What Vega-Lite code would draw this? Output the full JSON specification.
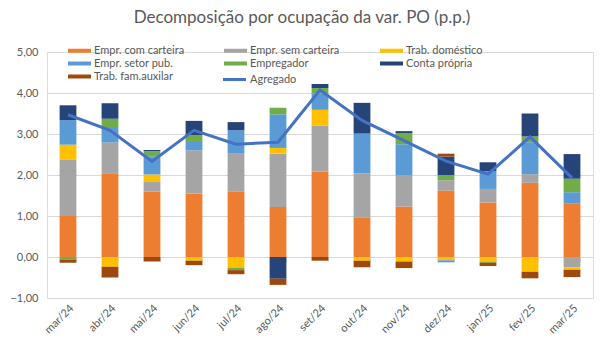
{
  "$schema": "https://vega.github.io/schema/vega-lite/v6.json",
  "width": 546,
  "height": 246,
  "autosize": {"type": "none"},
  "padding": {"left": 47, "top": 52, "right": 7, "bottom": 52},
  "background": "white",
  "title": {
    "text": "Decomposição por ocupação da var. PO (p.p.)",
    "font": "Lato",
    "fontSize": 17,
    "fontWeight": "normal",
    "color": "#595959",
    "anchor": "middle",
    "frame": "group",
    "dx": -18,
    "offset": 18
  },
  "datasets": {
    "bars": [
      {"mes": "mar/24", "serie": "Empr. com carteira", "valor": 1.00},
      {"mes": "mar/24", "serie": "Empr. sem carteira", "valor": 1.37},
      {"mes": "mar/24", "serie": "Trab. doméstico", "valor": 0.37},
      {"mes": "mar/24", "serie": "Empr. setor pub.", "valor": 0.60},
      {"mes": "mar/24", "serie": "Empregador", "valor": -0.07},
      {"mes": "mar/24", "serie": "Conta própria", "valor": 0.36},
      {"mes": "mar/24", "serie": "Trab. fam.auxilar", "valor": -0.07},
      {"mes": "abr/24", "serie": "Empr. com carteira", "valor": 2.04},
      {"mes": "abr/24", "serie": "Empr. sem carteira", "valor": 0.75},
      {"mes": "abr/24", "serie": "Trab. doméstico", "valor": -0.24},
      {"mes": "abr/24", "serie": "Empr. setor pub.", "valor": 0.38},
      {"mes": "abr/24", "serie": "Empregador", "valor": 0.20},
      {"mes": "abr/24", "serie": "Conta própria", "valor": 0.38},
      {"mes": "abr/24", "serie": "Trab. fam.auxilar", "valor": -0.26},
      {"mes": "mai/24", "serie": "Empr. com carteira", "valor": 1.59},
      {"mes": "mai/24", "serie": "Empr. sem carteira", "valor": 0.24},
      {"mes": "mai/24", "serie": "Trab. doméstico", "valor": 0.18},
      {"mes": "mai/24", "serie": "Empr. setor pub.", "valor": 0.45},
      {"mes": "mai/24", "serie": "Empregador", "valor": 0.12},
      {"mes": "mai/24", "serie": "Conta própria", "valor": 0.03},
      {"mes": "mai/24", "serie": "Trab. fam.auxilar", "valor": -0.11},
      {"mes": "jun/24", "serie": "Empr. com carteira", "valor": 1.55},
      {"mes": "jun/24", "serie": "Empr. sem carteira", "valor": 1.05},
      {"mes": "jun/24", "serie": "Trab. doméstico", "valor": -0.09},
      {"mes": "jun/24", "serie": "Empr. setor pub.", "valor": 0.23},
      {"mes": "jun/24", "serie": "Empregador", "valor": 0.14},
      {"mes": "jun/24", "serie": "Conta própria", "valor": 0.35},
      {"mes": "jun/24", "serie": "Trab. fam.auxilar", "valor": -0.11},
      {"mes": "jul/24", "serie": "Empr. com carteira", "valor": 1.59},
      {"mes": "jul/24", "serie": "Empr. sem carteira", "valor": 0.93},
      {"mes": "jul/24", "serie": "Trab. doméstico", "valor": -0.26},
      {"mes": "jul/24", "serie": "Empr. setor pub.", "valor": 0.57},
      {"mes": "jul/24", "serie": "Empregador", "valor": -0.06},
      {"mes": "jul/24", "serie": "Conta própria", "valor": 0.20},
      {"mes": "jul/24", "serie": "Trab. fam.auxilar", "valor": -0.10},
      {"mes": "ago/24", "serie": "Empr. com carteira", "valor": 1.22},
      {"mes": "ago/24", "serie": "Empr. sem carteira", "valor": 1.30},
      {"mes": "ago/24", "serie": "Trab. doméstico", "valor": 0.14},
      {"mes": "ago/24", "serie": "Empr. setor pub.", "valor": 0.82},
      {"mes": "ago/24", "serie": "Empregador", "valor": 0.16},
      {"mes": "ago/24", "serie": "Conta própria", "valor": -0.53},
      {"mes": "ago/24", "serie": "Trab. fam.auxilar", "valor": -0.15},
      {"mes": "set/24", "serie": "Empr. com carteira", "valor": 2.08},
      {"mes": "set/24", "serie": "Empr. sem carteira", "valor": 1.12},
      {"mes": "set/24", "serie": "Trab. doméstico", "valor": 0.39},
      {"mes": "set/24", "serie": "Empr. setor pub.", "valor": 0.40},
      {"mes": "set/24", "serie": "Empregador", "valor": 0.13},
      {"mes": "set/24", "serie": "Conta própria", "valor": 0.10},
      {"mes": "set/24", "serie": "Trab. fam.auxilar", "valor": -0.09},
      {"mes": "out/24", "serie": "Empr. com carteira", "valor": 0.97},
      {"mes": "out/24", "serie": "Empr. sem carteira", "valor": 1.07},
      {"mes": "out/24", "serie": "Trab. doméstico", "valor": -0.09},
      {"mes": "out/24", "serie": "Empr. setor pub.", "valor": 0.97},
      {"mes": "out/24", "serie": "Empregador", "valor": 0.0},
      {"mes": "out/24", "serie": "Conta própria", "valor": 0.75},
      {"mes": "out/24", "serie": "Trab. fam.auxilar", "valor": -0.16},
      {"mes": "nov/24", "serie": "Empr. com carteira", "valor": 1.23},
      {"mes": "nov/24", "serie": "Empr. sem carteira", "valor": 0.77},
      {"mes": "nov/24", "serie": "Trab. doméstico", "valor": -0.11},
      {"mes": "nov/24", "serie": "Empr. setor pub.", "valor": 0.75},
      {"mes": "nov/24", "serie": "Empregador", "valor": 0.27},
      {"mes": "nov/24", "serie": "Conta própria", "valor": 0.05},
      {"mes": "nov/24", "serie": "Trab. fam.auxilar", "valor": -0.16},
      {"mes": "dez/24", "serie": "Empr. com carteira", "valor": 1.62},
      {"mes": "dez/24", "serie": "Empr. sem carteira", "valor": 0.25},
      {"mes": "dez/24", "serie": "Trab. doméstico", "valor": -0.08},
      {"mes": "dez/24", "serie": "Empr. setor pub.", "valor": -0.05},
      {"mes": "dez/24", "serie": "Empregador", "valor": 0.13},
      {"mes": "dez/24", "serie": "Conta própria", "valor": 0.45},
      {"mes": "dez/24", "serie": "Trab. fam.auxilar", "valor": 0.07},
      {"mes": "jan/25", "serie": "Empr. com carteira", "valor": 1.33},
      {"mes": "jan/25", "serie": "Empr. sem carteira", "valor": 0.33},
      {"mes": "jan/25", "serie": "Trab. doméstico", "valor": -0.11},
      {"mes": "jan/25", "serie": "Empr. setor pub.", "valor": 0.43},
      {"mes": "jan/25", "serie": "Empregador", "valor": -0.03},
      {"mes": "jan/25", "serie": "Conta própria", "valor": 0.22},
      {"mes": "jan/25", "serie": "Trab. fam.auxilar", "valor": -0.08},
      {"mes": "fev/25", "serie": "Empr. com carteira", "valor": 1.81},
      {"mes": "fev/25", "serie": "Empr. sem carteira", "valor": 0.21},
      {"mes": "fev/25", "serie": "Trab. doméstico", "valor": -0.36},
      {"mes": "fev/25", "serie": "Empr. setor pub.", "valor": 0.78},
      {"mes": "fev/25", "serie": "Empregador", "valor": 0.14},
      {"mes": "fev/25", "serie": "Conta própria", "valor": 0.56},
      {"mes": "fev/25", "serie": "Trab. fam.auxilar", "valor": -0.16},
      {"mes": "mar/25", "serie": "Empr. com carteira", "valor": 1.31},
      {"mes": "mar/25", "serie": "Empr. sem carteira", "valor": -0.25},
      {"mes": "mar/25", "serie": "Trab. doméstico", "valor": -0.06},
      {"mes": "mar/25", "serie": "Empr. setor pub.", "valor": 0.27},
      {"mes": "mar/25", "serie": "Empregador", "valor": 0.33},
      {"mes": "mar/25", "serie": "Conta própria", "valor": 0.60},
      {"mes": "mar/25", "serie": "Trab. fam.auxilar", "valor": -0.18}
    ],
    "agregado": [
      {"mes": "mar/24", "valor": 3.47},
      {"mes": "abr/24", "valor": 3.09},
      {"mes": "mai/24", "valor": 2.33},
      {"mes": "jun/24", "valor": 3.09},
      {"mes": "jul/24", "valor": 2.75},
      {"mes": "ago/24", "valor": 2.80},
      {"mes": "set/24", "valor": 4.07},
      {"mes": "out/24", "valor": 3.33},
      {"mes": "nov/24", "valor": 2.84},
      {"mes": "dez/24", "valor": 2.34},
      {"mes": "jan/25", "valor": 2.02},
      {"mes": "fev/25", "valor": 2.93},
      {"mes": "mar/25", "valor": 1.93}
    ]
  },
  "resolve": {"axis": {"x": "independent"}},
  "encoding": {
    "y": {
      "type": "quantitative",
      "title": null,
      "scale": {"domain": [-1, 5], "nice": false, "zero": false},
      "axis": {
        "values": [-1, 0, 1, 2, 3, 4, 5],
        "labelExpr": "replace(format(datum.value, '.2f'), '.', ',')",
        "domain": false,
        "ticks": false,
        "gridColor": "#d9d9d9",
        "labelFont": "Lato",
        "labelFontSize": 11,
        "labelColor": "#595959",
        "labelPadding": 9
      }
    }
  },
  "layer": [
    {
      "data": {"name": "bars"},
      "transform": [
        {"calculate": "indexof(['Empr. com carteira', 'Empr. sem carteira', 'Trab. doméstico', 'Empr. setor pub.', 'Empregador', 'Conta própria', 'Trab. fam.auxilar'], datum.serie)", "as": "ordem"}
      ],
      "mark": {"type": "bar"},
      "encoding": {
        "x": {
          "field": "mes",
          "type": "nominal",
          "sort": null,
          "title": null,
          "scale": {"paddingInner": 0.6, "paddingOuter": 0.3},
          "axis": {
            "labelAngle": -45,
            "domain": false,
            "ticks": false,
            "labelFont": "Lato",
            "labelFontSize": 11,
            "labelColor": "#595959",
            "labelPadding": 4
          }
        },
        "y": {"field": "valor", "type": "quantitative", "stack": "zero"},
        "order": {"field": "ordem", "type": "quantitative", "sort": "ascending"},
        "color": {
          "field": "serie",
          "type": "nominal",
          "sort": ["Empr. com carteira", "Empr. sem carteira", "Trab. doméstico", "Empr. setor pub.", "Empregador", "Conta própria", "Trab. fam.auxilar"],
          "scale": {
            "domain": ["Empr. com carteira", "Empr. sem carteira", "Trab. doméstico", "Empr. setor pub.", "Empregador", "Conta própria", "Trab. fam.auxilar"],
            "range": ["#ED7D31", "#A5A5A5", "#FFC000", "#5B9BD5", "#70AD47", "#264478", "#9E480E"]
          },
          "legend": {
            "title": null,
            "orient": "none",
            "legendX": 27,
            "legendY": -7,
            "direction": "horizontal",
            "columns": 3,
            "gridAlign": "all",
            "columnPadding": 39,
            "rowPadding": 1,
            "symbolType": "M-2.3,-0.4H2.3V0.4H-2.3Z",
            "symbolSize": 100,
            "symbolStrokeWidth": 0,
            "labelOffset": 9,
            "labelFont": "Lato",
            "labelFontSize": 11,
            "labelColor": "#595959"
          }
        }
      }
    },
    {
      "data": {"name": "agregado"},
      "mark": {"type": "line", "strokeWidth": 3},
      "encoding": {
        "x": {
          "field": "mes",
          "type": "nominal",
          "sort": null,
          "title": null,
          "axis": {
            "orient": "top",
            "offset": -205,
            "labels": false,
            "grid": false,
            "domain": true,
            "domainColor": "#d9d9d9",
            "ticks": true,
            "tickBand": "extent",
            "tickColor": "#d9d9d9",
            "tickSize": -4
          }
        },
        "y": {"field": "valor", "type": "quantitative"},
        "stroke": {
          "datum": "Agregado",
          "scale": {"range": ["#4472C4"]},
          "legend": {
            "title": null,
            "orient": "none",
            "legendX": 181,
            "legendY": 21,
            "symbolType": "M-2.3,0H2.3",
            "symbolSize": 100,
            "symbolStrokeWidth": 3,
            "labelOffset": 9,
            "labelFont": "Lato",
            "labelFontSize": 11,
            "labelColor": "#595959"
          }
        }
      }
    }
  ]
}
